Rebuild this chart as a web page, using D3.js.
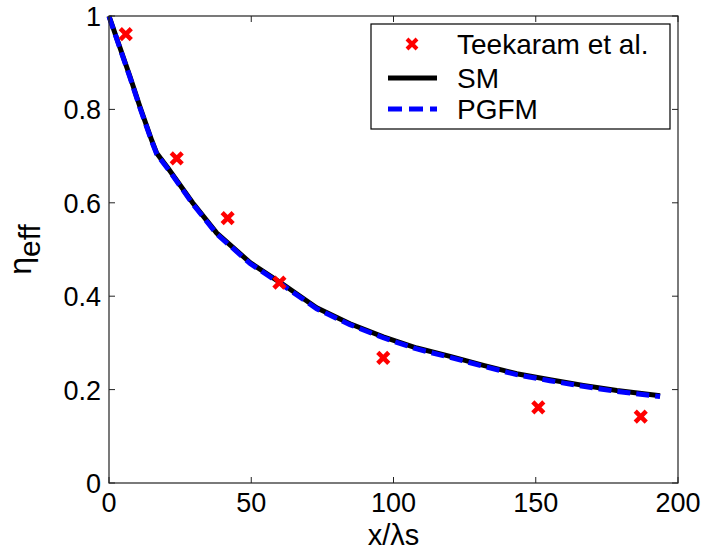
<!DOCTYPE html>
<html>
<head>
<meta charset="utf-8">
<script src="https://cdn.jsdelivr.net/npm/d3@7"></script>
<style>
  html, body { margin: 0; padding: 0; background: #fff; }
  svg { display: block; font-family: Arial, "Liberation Sans", Helvetica, sans-serif; }
</style>
</head>
<body>
<svg id="chart" width="704" height="550"></svg>
<script>
// Measured efficiency (Teekaram et al.)
const expX = [5.9, 23.8, 41.7, 59.9, 96.4, 150.9, 186.9];
const expY = [0.961, 0.695, 0.567, 0.429, 0.268, 0.162, 0.142];

// Model curves: SM and PGFM
const modelX = [0, 7.4, 10.9, 15.0, 16.8, 20.9, 29.4, 37.9, 49.6, 61.0, 73.0, 84.7, 96.4, 108.2, 119.9, 131.6, 143.3, 155.0, 166.7, 178.5, 193.7];
const smY    = [1.000, 0.870, 0.805, 0.734, 0.706, 0.673, 0.600, 0.535, 0.472, 0.426, 0.375, 0.341, 0.313, 0.289, 0.271, 0.252, 0.234, 0.221, 0.209, 0.198, 0.187];
const pgfmY  = [0.999, 0.868, 0.803, 0.732, 0.704, 0.671, 0.598, 0.533, 0.470, 0.424, 0.373, 0.339, 0.311, 0.287, 0.269, 0.250, 0.232, 0.219, 0.207, 0.196, 0.185];

const xTicks = [0, 50, 100, 150, 200];
const yTicks = [0, 0.2, 0.4, 0.6, 0.8, 1];
const seriesNames = ["Teekaram et al.", "SM", "PGFM"];

const svg = d3.select("#chart");
const m = { left: 109, top: 16, right: 26, bottom: 67 };
const W = 704 - m.left - m.right;
const H = 550 - m.top - m.bottom;

const x = d3.scaleLinear().domain([0, 200]).range([0, W]);
const y = d3.scaleLinear().domain([0, 1]).range([H, 0]);

const g = svg.append("g").attr("transform", `translate(${m.left},${m.top})`);

// model curves
const line = d3.line().x(d => x(d[0])).y(d => y(d[1]));
g.append("path")
  .datum(modelX.map((v, i) => [v, smY[i]]))
  .attr("d", line).attr("fill", "none")
  .attr("stroke", "#000").attr("stroke-width", 5);
g.append("path")
  .datum(modelX.map((v, i) => [v, pgfmY[i]]))
  .attr("d", line).attr("fill", "none")
  .attr("stroke", "#0000ff").attr("stroke-width", 5)
  .attr("stroke-dasharray", "13,6");

// cross markers
const cross = s => `M${-s},${-s}L${s},${s}M${-s},${s}L${s},${-s}`;
g.selectAll("path.exp")
  .data(expX.map((v, i) => [v, expY[i]]))
  .join("path")
  .attr("class", "exp")
  .attr("transform", d => `translate(${x(d[0])},${y(d[1])})`)
  .attr("d", cross(5.5))
  .attr("stroke", "#ff0000").attr("stroke-width", 4.5).attr("fill", "none");

// axes box with inward ticks
const tick = 6;
const axisColor = "#222";
g.append("rect").attr("x", 0).attr("y", 0).attr("width", W).attr("height", H)
  .attr("fill", "none").attr("stroke", axisColor).attr("stroke-width", 1.2);

xTicks.forEach(t => {
  g.append("line").attr("x1", x(t)).attr("x2", x(t)).attr("y1", H).attr("y2", H - tick)
    .attr("stroke", axisColor);
  g.append("line").attr("x1", x(t)).attr("x2", x(t)).attr("y1", 0).attr("y2", tick)
    .attr("stroke", axisColor);
  g.append("text").attr("x", x(t)).attr("y", H + 29)
    .attr("text-anchor", "middle").attr("font-size", 27).attr("fill", "#000")
    .text(d3.format("d")(t));
});
yTicks.forEach(t => {
  g.append("line").attr("x1", 0).attr("x2", tick).attr("y1", y(t)).attr("y2", y(t))
    .attr("stroke", axisColor);
  g.append("line").attr("x1", W).attr("x2", W - tick).attr("y1", y(t)).attr("y2", y(t))
    .attr("stroke", axisColor);
  g.append("text").attr("x", -8).attr("y", y(t) + 10)
    .attr("text-anchor", "end").attr("font-size", 27).attr("fill", "#000")
    .text(t === 0 || t === 1 ? d3.format("d")(t) : d3.format(".1f")(t));
});

// axis titles
svg.append("text").attr("x", m.left + W / 2).attr("y", 545)
  .attr("text-anchor", "middle").attr("font-size", 29).attr("fill", "#000")
  .text("x/λs");

const yl = svg.append("text")
  .attr("transform", `translate(31,${m.top + H / 2}) rotate(-90)`)
  .attr("text-anchor", "middle").attr("font-size", 32).attr("fill", "#000");
yl.append("tspan").text("η");
yl.append("tspan").attr("dy", 9).attr("font-size", 30).text("eff");

// legend
const lg = svg.append("g");
lg.append("rect").attr("x", 371).attr("y", 24).attr("width", 299).attr("height", 105)
  .attr("fill", "#fff").attr("stroke", "#000").attr("stroke-width", 1.2);
const rowY = [44, 78, 109];
lg.append("path").attr("transform", `translate(412,${rowY[0]})`).attr("d", cross(5))
  .attr("stroke", "#ff0000").attr("stroke-width", 4).attr("fill", "none");
lg.append("line").attr("x1", 388).attr("x2", 437).attr("y1", rowY[1]).attr("y2", rowY[1])
  .attr("stroke", "#000").attr("stroke-width", 5);
lg.append("line").attr("x1", 388).attr("x2", 437).attr("y1", rowY[2]).attr("y2", rowY[2])
  .attr("stroke", "#0000ff").attr("stroke-width", 5).attr("stroke-dasharray", "14,7");
seriesNames.forEach((s, i) => {
  lg.append("text").attr("x", 457).attr("y", rowY[i] + 10)
    .attr("font-size", 28).attr("fill", "#000").text(s);
});
</script>
</body>
</html>
